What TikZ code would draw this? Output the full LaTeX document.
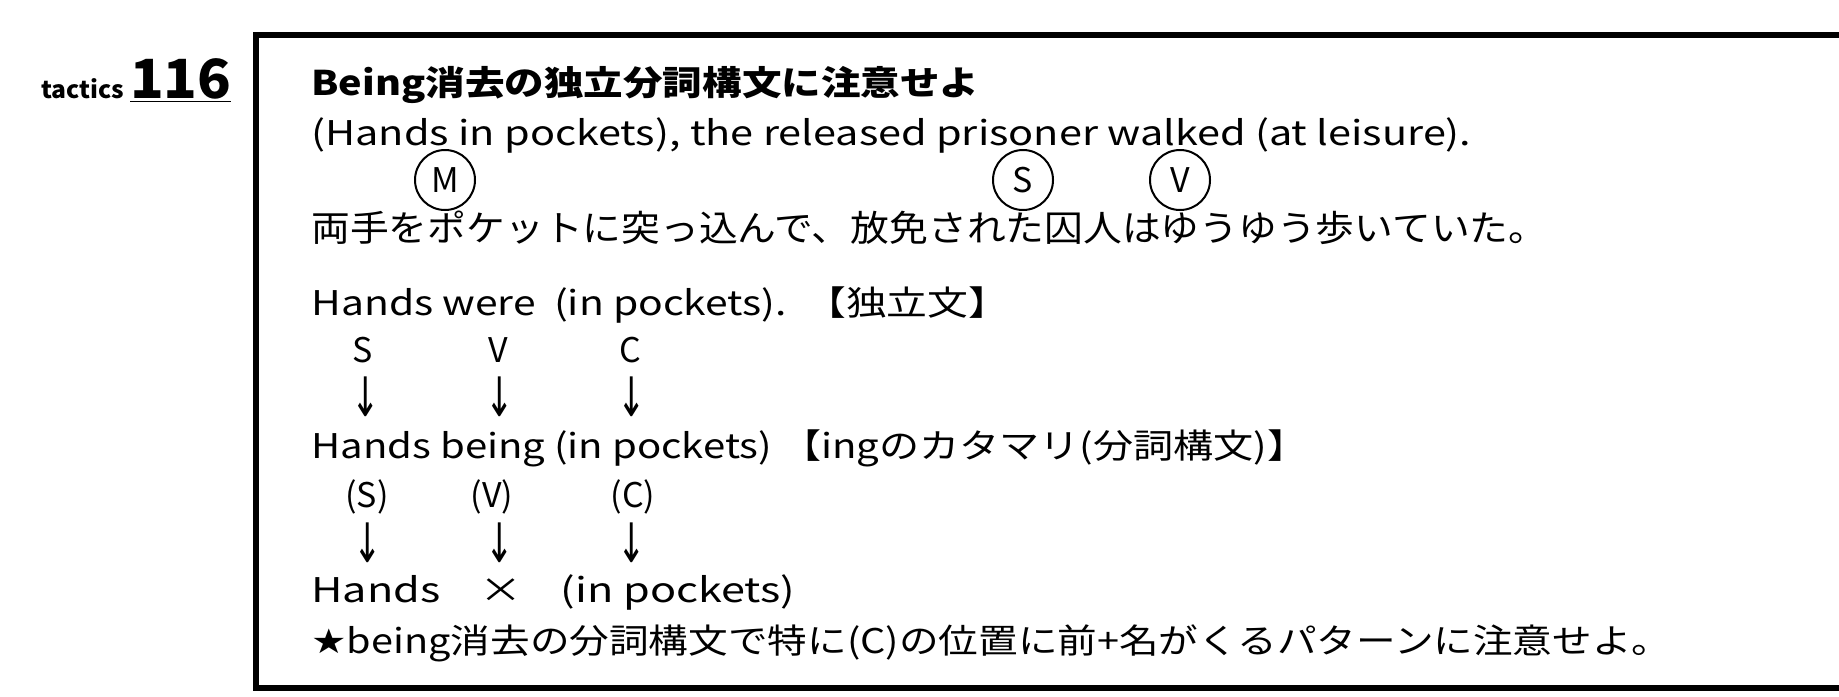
\documentclass[tikz,border=0pt]{standalone}
\usepackage{fontspec}
\usepackage{graphicx}
\setmainfont{Noto Sans CJK JP}
\newfontfamily\symf{DejaVu Sans}
\newcommand{\wfit}[2]{\resizebox{#1pt}{\height}{#2}}
\newcommand{\darr}{\scalebox{1}[1.6]{\symf ↓}}
\begin{document}
\begin{tikzpicture}[x=0.5pt,y=-0.5pt,
  txt/.style={anchor=west,inner sep=0pt,font=\fontsize{17}{19}\selectfont},
  circ/.style={circle,draw,line width=1pt,inner sep=1pt,minimum size=30pt,font=\fontsize{17}{19}\selectfont},
  lbl/.style={inner sep=0pt,font=\fontsize{17}{19}\selectfont}]
\useasboundingbox (0,0) rectangle (1839,696);
\draw[line width=2.8pt] (1839,35) -- (256,35) -- (256,688) -- (1839,688);
\node[anchor=base west,inner sep=0pt] (tac) at (41,98) {\wfit{95}{\fontsize{12}{14}\selectfont\bfseries tactics \fontsize{27}{30}\selectfont\underline{116}}};
\node[txt] (t1) at (311,85) {\wfit{334}{\fontsize{17}{19}\selectfont\bfseries Being消去の独立分詞構文に注意せよ}};
\node[txt] (t2) at (311,135) {\wfit{580}{(Hands in pockets), the released prisoner walked (at leisure).}};
\node[circ] (cm) at (445,180) {M};
\node[circ] (cs) at (1023,180) {S};
\node[circ] (cv) at (1180,180) {V};
\node[txt] (t3) at (311,228) {\wfit{618}{\fontsize{18}{20}\selectfont 両手をポケットに突っ込んで、放免された囚人はゆうゆう歩いていた。}};
\node[txt] (t4) at (311,305) {\wfit{349}{Hands were\ \ (in pockets).\ \ 【独立文】}};
\node[lbl] (s1) at (363,350) {S};
\node[lbl] (v1) at (498,350) {V};
\node[lbl] (c1) at (630,350) {C};
\node[lbl] (a1) at (366,397) {\darr};
\node[lbl] (a2) at (500,397) {\darr};
\node[lbl] (a3) at (632,397) {\darr};
\node[txt] (t5) at (311,448) {\wfit{498}{Hands being (in pockets) 【ingのカタマリ(分詞構文)】}};
\node[lbl] (s2) at (367,497) {(S)};
\node[lbl] (v2) at (492,497) {(V)};
\node[lbl] (c2) at (633,497) {(C)};
\node[lbl] (b1) at (368,543) {\darr};
\node[lbl] (b2) at (500,543) {\darr};
\node[lbl] (b3) at (632,543) {\darr};
\node[txt] (t6) at (311,592) {\wfit{242}{Hands\ \ \ \ ×\ \ \ \ (in pockets)}};
\node[txt] (t7) at (311,643) {\wfit{680}{{\symf ★}being消去の分詞構文で特に(C)の位置に前+名がくるパターンに注意せよ。}};
\end{tikzpicture}
\end{document}
